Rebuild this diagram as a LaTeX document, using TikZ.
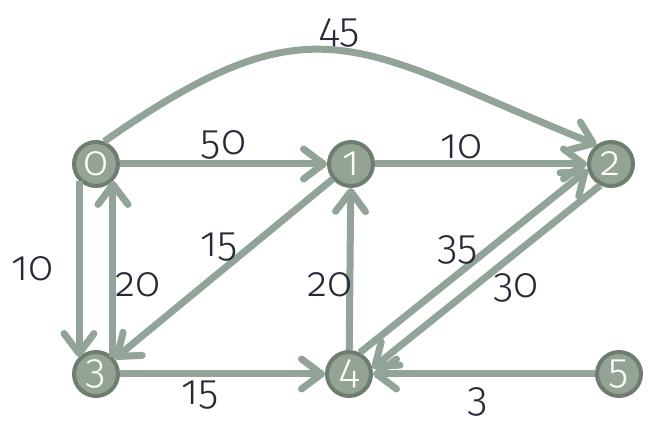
\documentclass[tikz,border=0pt]{standalone}
\usepackage{fontspec}
\setmainfont[Numbers=OldStyle]{Fira Sans Light}
\usetikzlibrary{arrows.meta}
\definecolor{edgegray}{RGB}{146,164,151}
\definecolor{vertfill}{RGB}{147,163,148}
\definecolor{vertdraw}{RGB}{110,125,112}
\definecolor{wtext}{RGB}{40,40,56}

\begin{document}
\begin{tikzpicture}[
    x=1pt, y=1pt,
    font=\fontsize{42}{46}\selectfont,
    vert/.style={circle, fill=vertfill, draw=vertdraw, line width=4pt,
                 minimum size=44pt, inner sep=0pt, text=white},
    arr/.style={-{Straight Barb[length=20pt,width=30pt,round]},
                line width=7pt, draw=edgegray},
    wt/.style={text=wtext, inner sep=0pt}
  ]
    \useasboundingbox (0,0) rectangle (648,422);
    \node[vert] (n0) at (96,258) {0};
    \node[vert] (n1) at (351,258) {1};
    \node[vert] (n2) at (611,258) {2};
    \node[vert] (n3) at (96,48) {3};
    \node[vert] (n4) at (349,48) {4};
    \node[vert] (n5) at (619,48) {5};
    \draw[arr] (n0.70) .. controls +(35:260) and +(158:260)
      .. node[wt, pos=.5, yshift=18pt] {45} (n2.127);
    \draw[arr] (n0) -- node[wt, pos=.5, yshift=19pt] {50} (n1);
    \draw[arr] (n1) -- node[wt, pos=.41, yshift=17pt] {10} (n2);
    \draw[arr] (n0.225) -- node[wt, pos=.5, xshift=-46pt] {10} (n3.135);
    \draw[arr] (n3.45) -- node[wt, pos=.41, xshift=25pt] {20} (n0.-45);
    \draw[arr] (n1) -- node[wt, pos=.52, yshift=25pt] {15} (n3);
    \draw[arr] (n4) -- node[wt, pos=.4, xshift=-20pt] {20} (n1);
    \draw[arr] (n4.63) -- node[wt, pos=.43, yshift=24pt] {35} (n2.194);
    \draw[arr] (n2.243) -- node[wt, pos=.37, yshift=-35pt] {30} (n4.14);
    \draw[arr] (n3) -- node[wt, pos=.39, yshift=-21pt] {15} (n4);
    \draw[arr] (n5) -- node[wt, pos=.53, yshift=-28pt] {3} (n4);
\end{tikzpicture}
\end{document}
